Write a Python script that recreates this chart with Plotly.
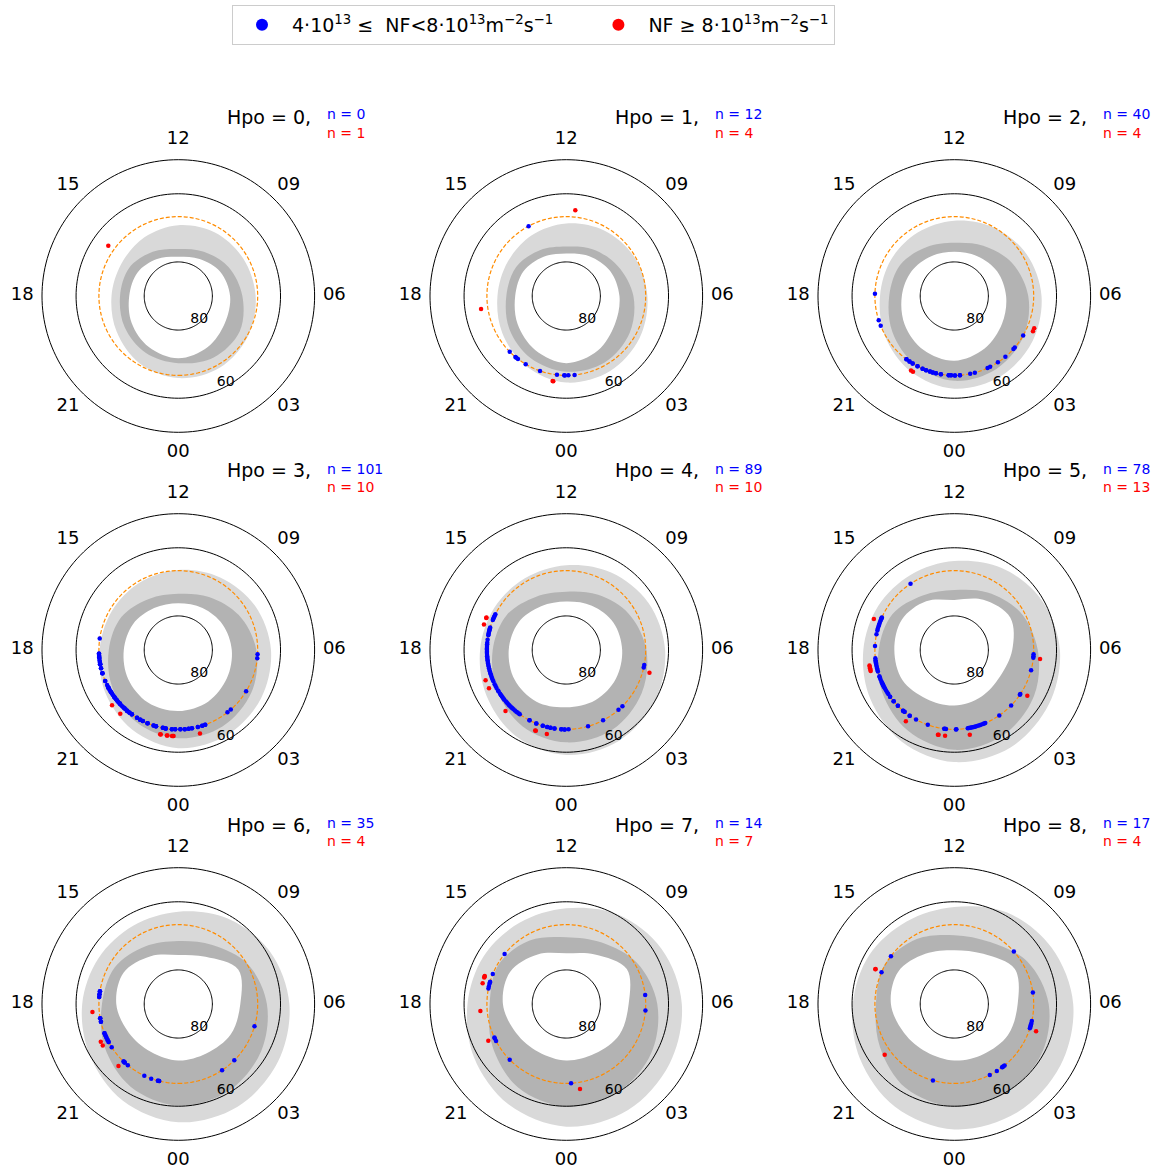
import numpy as np
import plotly.graph_objects as go

FIG_W, FIG_H = 1152, 1169
FONT = "DejaVu Sans"

HPO = [0, 1, 2, 3, 4, 5, 6, 7, 8]

# MLT hours at which the oval boundaries are tabulated
OVAL_MLT = [0, 2, 4, 6, 8, 10, 12, 14, 16, 18, 20, 22]

# Equatorward edge of the light-grey oval (colatitude, deg) per Hpo level
OUTER_HPO0 = [24.1, 24.3, 23.6, 22.7, 22.0, 21.5, 20.8, 19.9, 19.2, 19.6, 20.9, 22.8]
OUTER_HPO1 = [25.4, 25.5, 24.8, 23.8, 23.0, 22.2, 21.3, 20.5, 19.9, 20.2, 21.7, 23.7]
OUTER_HPO2 = [27.2, 27.2, 26.5, 25.6, 24.5, 23.2, 22.1, 21.5, 21.4, 21.8, 23.5, 25.6]
OUTER_HPO3 = [28.8, 28.8, 28.1, 27.2, 26.0, 24.6, 23.5, 22.8, 22.6, 23.1, 24.8, 27.0]
OUTER_HPO4 = [30.8, 30.8, 30.0, 29.0, 27.8, 26.3, 24.9, 24.3, 24.5, 25.3, 27.0, 29.3]
OUTER_HPO5 = [32.9, 33.0, 32.0, 31.0, 29.5, 27.8, 26.1, 25.5, 25.8, 26.7, 28.5, 31.0]
OUTER_HPO6 = [34.7, 34.8, 33.8, 32.6, 31.0, 29.0, 27.1, 26.5, 27.0, 28.2, 30.0, 32.7]
OUTER_HPO7 = [36.0, 36.0, 35.0, 33.9, 32.3, 30.3, 28.1, 27.5, 28.0, 29.0, 31.3, 34.0]
OUTER_HPO8 = [36.8, 36.8, 36.0, 34.9, 33.0, 31.0, 28.5, 28.0, 28.8, 29.8, 32.0, 34.8]

# Equatorward edge of the dark-grey core (colatitude, deg)
CORE_HPO0 = [19.7, 20.8, 20.8, 18.8, 17.0, 15.0, 13.8, 15.0, 16.6, 17.1, 18.2, 19.2]
CORE_HPO1 = [22.2, 22.5, 21.5, 19.7, 17.5, 15.8, 14.5, 15.5, 17.0, 17.6, 19.3, 21.0]
CORE_HPO2 = [24.9, 24.7, 23.5, 21.7, 19.5, 17.0, 15.6, 16.5, 18.3, 19.1, 21.0, 23.2]
CORE_HPO3 = [25.9, 25.9, 24.8, 22.9, 20.5, 18.0, 16.5, 17.3, 19.3, 20.4, 22.3, 24.5]
CORE_HPO4 = [27.1, 27.0, 25.5, 23.5, 21.2, 18.7, 17.1, 18.0, 20.3, 21.6, 23.5, 25.8]
CORE_HPO5 = [29.3, 28.8, 27.0, 24.5, 22.3, 19.5, 17.6, 18.5, 21.0, 22.2, 24.5, 27.3]
CORE_HPO6 = [29.8, 29.5, 28.0, 26.0, 23.5, 20.0, 18.5, 19.5, 21.5, 22.4, 25.0, 28.0]
CORE_HPO7 = [30.1, 30.0, 28.8, 26.7, 24.0, 20.8, 19.6, 21.5, 23.0, 22.5, 25.0, 28.3]
CORE_HPO8 = [30.1, 30.2, 29.5, 27.7, 24.8, 21.0, 20.2, 22.0, 23.5, 23.0, 25.2, 28.5]

# Poleward edge of the oval, i.e. the edge of the empty polar cap (colatitude, deg)
CAP_HPO0 = [18.3, 17.3, 15.8, 15.2, 14.2, 12.5, 11.5, 12.5, 13.8, 14.4, 15.8, 17.3]
CAP_HPO1 = [19.7, 18.5, 16.5, 15.6, 14.8, 13.5, 12.5, 13.3, 14.5, 15.0, 16.5, 18.3]
CAP_HPO2 = [19.0, 17.8, 16.2, 15.2, 14.5, 13.5, 13.0, 13.5, 14.5, 15.4, 16.8, 18.2]
CAP_HPO3 = [17.9, 17.5, 16.5, 15.7, 15.0, 14.2, 13.7, 14.2, 15.3, 16.0, 17.0, 17.8]
CAP_HPO4 = [16.8, 17.0, 16.8, 16.4, 16.0, 15.0, 14.2, 14.8, 16.2, 16.9, 17.5, 17.5]
CAP_HPO5 = [16.3, 15.8, 15.5, 17.0, 19.0, 17.0, 14.7, 16.5, 17.8, 17.6, 17.6, 16.5]
CAP_HPO6 = [16.6, 16.7, 17.8, 18.2, 20.3, 16.0, 14.4, 16.2, 18.5, 18.2, 16.8, 16.2]
CAP_HPO7 = [16.6, 16.8, 18.0, 18.3, 20.5, 16.8, 14.9, 16.8, 19.0, 18.6, 17.0, 16.3]
CAP_HPO8 = [16.6, 17.0, 18.2, 18.6, 20.5, 17.0, 15.8, 17.0, 19.0, 18.6, 17.0, 16.3]

# Station ring and the ring on which strong events are plotted (colatitude, deg)
STATION_COLAT = 23.3
STRONG_COLAT = 25.3

# MLT (h) of events with 4e13 <= NF < 8e13
BLUE_HPO0 = []
BLUE_HPO1 = [13.89, 20.97, 21.34, 21.40, 21.50, 21.95, 22.71, 23.55, 23.90, 23.93, 0.10, 0.40]
BLUE_HPO2 = [17.89, 19.19, 19.47, 21.53, 21.71, 21.89, 22.16, 22.43, 22.61, 22.81, 22.95,
             23.11, 23.35, 23.73, 23.84, 0.03, 0.27, 0.77, 1.00, 1.65, 1.79, 2.22, 2.67,
             3.21, 3.31, 4.01, 21.53, 21.71, 21.89, 22.16, 22.43, 22.61, 22.81, 22.95,
             23.11, 23.35, 23.73, 23.84, 0.03, 0.27]
BLUE_HPO3 = [17.45, 18.18, 18.29, 18.69, 18.89, 19.14, 19.53, 19.92, 20.15, 20.41, 20.64,
             20.83, 21.15, 21.32, 21.48, 21.61, 21.91, 22.09, 22.23, 22.48, 22.79, 22.91,
             23.25, 23.39, 23.69, 23.85, 0.10, 0.31, 0.50, 0.66, 0.95, 1.17, 1.32, 2.55,
             2.76, 3.91, 5.79, 5.60,
             18.35, 18.40, 18.50, 18.58, 18.63, 19.75, 19.84, 20.00, 20.07, 20.22, 20.30,
             20.48, 20.55, 20.72, 20.90, 21.00, 21.08, 21.22, 21.40,
             18.18, 18.29, 18.69, 18.89, 19.14, 19.53, 19.92, 20.15, 20.41, 20.64, 20.83,
             21.15, 21.32, 21.48, 21.61, 21.91, 22.09, 22.23, 22.48, 22.79, 22.91, 23.25,
             23.39, 23.69, 23.85, 0.10, 0.31, 0.50, 0.66, 0.95, 1.17, 1.32,
             18.18, 18.69, 19.14, 19.92, 20.41, 20.83, 21.32, 21.61, 22.09, 22.48, 22.91,
             23.39]
BLUE_HPO4 = [16.22, 16.35, 16.47, 16.95, 17.11, 17.28, 17.81, 18.08, 18.24, 18.43, 18.65,
             18.89, 19.14, 19.36, 19.80, 20.04, 20.23, 20.45, 20.58, 20.83, 20.95, 21.09,
             21.31, 21.47, 21.61, 22.16, 22.52, 22.85, 23.07, 23.23, 23.43, 23.76, 23.92,
             0.11, 1.06, 1.84, 2.74, 3.00, 5.15, 5.27,
             16.28, 16.40, 16.52, 16.90, 17.00, 17.05, 17.18, 17.22, 17.50, 17.65, 17.72,
             17.90, 17.95, 18.00, 18.15, 18.30, 18.36, 18.50, 18.58, 18.72, 18.80, 18.97,
             19.05, 19.20, 19.28, 19.45, 19.55, 19.70, 19.90, 20.10, 20.30, 20.38, 20.52,
             20.70, 20.76, 20.90, 21.02, 21.15, 21.22, 21.40, 21.55, 22.16, 22.52, 22.85,
             23.07, 23.23, 23.43, 23.76, 23.92]
BLUE_HPO5 = [14.23, 16.39, 16.52, 16.77, 16.97, 17.24, 17.81, 18.49, 18.65, 18.81, 18.97,
             19.29, 19.57, 19.68, 19.81, 19.94, 20.16, 20.40, 20.68, 20.98, 21.32, 21.41,
             21.72, 22.08, 22.70, 23.51, 23.60, 0.08, 0.65, 0.77, 0.89, 1.07, 1.24, 1.41,
             1.53, 2.30, 3.05, 3.71, 5.02, 5.63, 5.79,
             16.42, 16.45, 16.60, 16.70, 16.85, 17.05, 18.40, 18.55, 18.60, 18.72, 18.90,
             19.05, 19.35, 19.45, 19.62, 19.72, 19.75, 19.87, 20.05, 20.25, 20.40, 20.68,
             20.98, 21.32, 21.41, 21.72, 23.55, 0.10, 0.70, 0.82, 0.95, 1.00, 1.15, 1.30,
             1.47, 5.70, 3.75]
BLUE_HPO6 = [17.38, 17.53, 17.66, 18.69, 18.86, 19.44, 19.55, 19.67, 19.80, 19.91, 20.20,
             21.10, 21.17, 21.37, 22.31, 22.67, 23.01, 23.07, 2.23, 2.99, 4.91,
             17.38, 17.53, 17.66, 19.44, 19.55, 19.67, 19.80, 19.91, 21.10, 21.17, 23.01,
             23.07, 18.69, 18.86]
BLUE_HPO7 = [15.40, 16.52, 16.91, 17.03, 17.15, 17.25, 19.67, 19.85, 20.97, 0.23, 6.44,
             5.69, 16.95, 19.72]
BLUE_HPO8 = [15.53, 16.43, 8.76, 6.55, 5.17, 5.05, 4.94, 4.81, 2.62, 2.55, 2.47, 2.16,
             1.77, 22.96, 5.00, 4.88, 2.50]

# MLT (h) of events with NF >= 8e13
RED_HPO0 = [15.62]
RED_HPO1 = [11.60, 18.58, 23.39, 23.42]
RED_HPO2 = [4.53, 4.39, 21.99, 22.09]
RED_HPO3 = [20.65, 21.18, 23.19, 23.49, 23.72, 23.79, 0.97, 23.52, 23.76, 23.22]
RED_HPO4 = [16.52, 16.85, 19.37, 19.75, 21.01, 22.59, 23.13, 4.98, 16.55, 22.62]
RED_HPO5 = [16.59, 18.69, 18.82, 18.94, 21.72, 23.27, 23.59, 0.69, 3.86, 5.60, 18.75,
            18.88, 23.30]
RED_HPO6 = [18.35, 19.73, 19.92, 21.07]
RED_HPO7 = [16.74, 16.81, 17.07, 18.31, 19.68, 0.61, 16.77]
RED_HPO8 = [16.40, 20.41, 4.77, 16.42]

# Angular tick labels (MLT) and latitude rings
MLT_TICKS = [0, 3, 6, 9, 12, 15, 18, 21]
MLT_TICK_TEXT = ["00", "03", "06", "09", "12", "15", "18", "21"]
LAT_RINGS = [80, 60]
LAT_RING_TEXT = ["80", "60"]
LAT_EDGE = 50

OUTER = [OUTER_HPO0, OUTER_HPO1, OUTER_HPO2, OUTER_HPO3, OUTER_HPO4,
         OUTER_HPO5, OUTER_HPO6, OUTER_HPO7, OUTER_HPO8]
CORE = [CORE_HPO0, CORE_HPO1, CORE_HPO2, CORE_HPO3, CORE_HPO4,
        CORE_HPO5, CORE_HPO6, CORE_HPO7, CORE_HPO8]
CAP = [CAP_HPO0, CAP_HPO1, CAP_HPO2, CAP_HPO3, CAP_HPO4,
       CAP_HPO5, CAP_HPO6, CAP_HPO7, CAP_HPO8]
BLUE = [BLUE_HPO0, BLUE_HPO1, BLUE_HPO2, BLUE_HPO3, BLUE_HPO4,
        BLUE_HPO5, BLUE_HPO6, BLUE_HPO7, BLUE_HPO8]
RED = [RED_HPO0, RED_HPO1, RED_HPO2, RED_HPO3, RED_HPO4,
       RED_HPO5, RED_HPO6, RED_HPO7, RED_HPO8]

# ---- layout geometry ----
COL_X = [178.3, 566.3, 954.3]      # panel centres, px
ROW_Y = [296.0, 650.0, 1004.0]
EDGE_PX = 136.3                     # pixel radius of the 50 deg circle
R_MAX = 47.0                        # radial range kept so the MLT labels fit inside
MLT_LABEL_R = 45.8                  # colatitude at which MLT labels sit
RING_LABEL_POS = {80: (9.2, 42.0), 60: (29.0, 28.7)}  # (r, theta) of ring labels

LIGHT_GREY = "#d9d9d9"
DARK_GREY = "#b3b3b3"
NBSP = "\u00a0"


def mlt_to_theta(mlt):
    return [m * 15.0 for m in mlt]


def closed(vals):
    return list(vals) + [vals[0]]


fig = go.Figure()
ring_theta = np.linspace(0, 360, 181)
dom_px = EDGE_PX * R_MAX / (90 - LAT_EDGE)

for i, hpo in enumerate(HPO):
    sp = "polar" if i == 0 else f"polar{i + 1}"
    cx = COL_X[i % 3]
    cy = ROW_Y[i // 3]
    node_theta = closed(mlt_to_theta(OVAL_MLT))

    # oval: light band, dark core, empty cap on top
    for vals, colour in ((OUTER[i], LIGHT_GREY), (CORE[i], DARK_GREY), (CAP[i], "white")):
        fig.add_trace(go.Scatterpolar(
            r=closed(vals), theta=node_theta, mode="lines",
            line=dict(shape="spline", width=0, color=colour, smoothing=1.0),
            fill="toself", fillcolor=colour, subplot=sp,
            hoverinfo="skip", showlegend=False))

    # latitude rings and the 50 deg edge
    for lat in LAT_RINGS + [LAT_EDGE]:
        fig.add_trace(go.Scatterpolar(
            r=np.full(ring_theta.size, 90 - lat), theta=ring_theta, mode="lines",
            line=dict(color="black", width=1), subplot=sp,
            hoverinfo="skip", showlegend=False))
    fig.add_trace(go.Scatterpolar(
        r=[RING_LABEL_POS[lat][0] for lat in LAT_RINGS],
        theta=[RING_LABEL_POS[lat][1] for lat in LAT_RINGS],
        text=LAT_RING_TEXT, mode="text", textposition="middle center",
        textfont=dict(family=FONT, size=14, color="black"),
        subplot=sp, hoverinfo="skip", showlegend=False))

    # station latitude
    fig.add_trace(go.Scatterpolar(
        r=np.full(ring_theta.size, STATION_COLAT), theta=ring_theta, mode="lines",
        line=dict(color="darkorange", width=1.2, dash="4px,2px"), subplot=sp,
        hoverinfo="skip", showlegend=False))

    # MLT labels
    fig.add_trace(go.Scatterpolar(
        r=[MLT_LABEL_R] * len(MLT_TICKS), theta=mlt_to_theta(MLT_TICKS),
        text=MLT_TICK_TEXT, mode="text", textposition="middle center",
        textfont=dict(family=FONT, size=18, color="black"),
        subplot=sp, hoverinfo="skip", showlegend=False))

    # events
    fig.add_trace(go.Scatterpolar(
        r=[STATION_COLAT] * len(BLUE[i]), theta=mlt_to_theta(BLUE[i]), mode="markers",
        marker=dict(color="blue", size=4.5, line=dict(width=0)), subplot=sp,
        hoverinfo="skip",
        name=("4·10<sup>13</sup> ≤  NF&lt;8·10<sup>13</sup>m<sup>−2</sup>s<sup>−1</sup>"
              + NBSP * 5),
        legendgroup="blue", showlegend=(i == 1)))
    fig.add_trace(go.Scatterpolar(
        r=[STRONG_COLAT] * len(RED[i]), theta=mlt_to_theta(RED[i]), mode="markers",
        marker=dict(color="red", size=4.5, line=dict(width=0)), subplot=sp,
        hoverinfo="skip",
        name="NF ≥ 8·10<sup>13</sup>m<sup>−2</sup>s<sup>−1</sup>",
        legendgroup="red", showlegend=(i == 1)))

    fig.update_layout(**{sp: dict(
        domain=dict(x=[(cx - dom_px) / FIG_W, (cx + dom_px) / FIG_W],
                    y=[1 - (cy + dom_px) / FIG_H, 1 - (cy - dom_px) / FIG_H]),
        bgcolor="rgba(0,0,0,0)",
        radialaxis=dict(visible=False, range=[0, R_MAX]),
        angularaxis=dict(rotation=270, direction="counterclockwise",
                         showgrid=False, showticklabels=False, ticks="",
                         showline=False),
    )})

    # panel heading and event counts
    fig.add_annotation(x=(cx + 135) / FIG_W, y=1 - (cy - 179.5) / FIG_H,
                       xref="paper", yref="paper", xanchor="right", yanchor="middle",
                       text=f"Hpo = {hpo},", showarrow=False,
                       font=dict(family=FONT, size=19, color="black"))
    fig.add_annotation(x=(cx + 147) / FIG_W, y=1 - (cy - 181.5) / FIG_H,
                       xref="paper", yref="paper", xanchor="left", yanchor="middle",
                       text=f"n = {len(BLUE[i])}", showarrow=False,
                       font=dict(family=FONT, size=14, color="blue"))
    fig.add_annotation(x=(cx + 147) / FIG_W, y=1 - (cy - 162.7) / FIG_H,
                       xref="paper", yref="paper", xanchor="left", yanchor="middle",
                       text=f"n = {len(RED[i])}", showarrow=False,
                       font=dict(family=FONT, size=14, color="red"))

fig.update_layout(
    width=FIG_W, height=FIG_H,
    margin=dict(l=0, r=0, t=0, b=0),
    paper_bgcolor="white",
    font=dict(family=FONT, color="black"),
    showlegend=True,
    legend=dict(orientation="h", x=232 / FIG_W, xanchor="left",
                y=1 - 5 / FIG_H, yanchor="top",
                bordercolor="#cccccc", borderwidth=1, bgcolor="white",
                font=dict(family=FONT, size=19, color="black"),
                itemsizing="constant", itemwidth=50),
)

fig.write_html("out.html")
